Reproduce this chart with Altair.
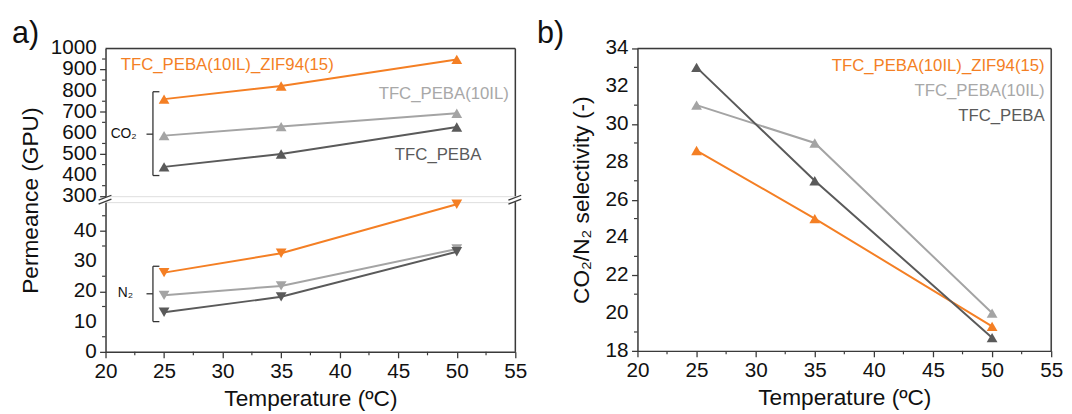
import altair as alt
import pandas as pd

# ---------------- data ----------------
temps = [25, 35, 50]
series = ["TFC_PEBA(10IL)_ZIF94(15)", "TFC_PEBA(10IL)", "TFC_PEBA"]
colors = ["#F47F24", "#A4A4A4", "#5A5A5A"]

co2_zif = [760, 822, 948]
co2_il = [587, 630, 693]
co2_peba = [439, 500, 628]

n2_zif = [26.2, 32.6, 48.8]
n2_il = [18.7, 21.8, 34.0]
n2_peba = [13.1, 18.2, 33.1]

sel_zif = [28.6, 25.0, 19.3]
sel_il = [31.0, 29.0, 20.0]
sel_peba = [33.0, 27.0, 18.7]

x_major = [20, 25, 30, 35, 40, 45, 50, 55]
x_minor = [22.5, 27.5, 32.5, 37.5, 42.5, 47.5, 52.5]
co2_major = [300, 400, 500, 600, 700, 800, 900, 1000]
co2_minor = [350, 450, 550, 650, 750, 850, 950]
n2_major = [0, 10, 20, 30, 40]
n2_minor = [5, 15, 25, 35, 45]
sel_major = [18, 20, 22, 24, 26, 28, 30, 32, 34]
sel_minor = [19, 21, 23, 25, 27, 29, 31, 33]


def table(vals_list):
    rows = []
    for name, vals in zip(series, vals_list):
        for t, v in zip(temps, vals):
            rows.append({"series": name, "T": t, "v": v})
    return pd.DataFrame(rows)


co2_df = table([co2_zif, co2_il, co2_peba])
n2_df = table([n2_zif, n2_il, n2_peba])
sel_df = table([sel_zif, sel_il, sel_peba])
one = pd.DataFrame({"k": [0]})

FONT = "Liberation Sans"
AXC = "#3a3a3a"
W_A, W_B = 416, 420
H_UP, H_LO, H_B = 150, 152, 307

color = alt.Color("series:N", scale=alt.Scale(domain=series, range=colors), legend=None)
xscale = alt.Scale(domain=[20, 55], nice=False, zero=False)


def ax(values, title=None, labels=True, **kw):
    return alt.Axis(
        values=values, tickSize=6, labels=labels,
        labelOverlap=False, labelFlush=False, grid=False,
        domainColor=AXC, domainWidth=1.5, tickColor=AXC, tickWidth=1.3,
        labelFont=FONT, labelFontSize=21, labelColor="#111111", labelPadding=3,
        title=title, titleFont=FONT, titleFontSize=23, titleFontWeight="normal",
        titleColor="#111111", **kw,
    )


xaxis = ax(x_major, "Temperature (ºC)", titlePadding=6)


def series_layers(df, yscale, yaxis, shape, xax=None):
    base = alt.Chart(df).encode(
        x=alt.X("T:Q", scale=xscale, axis=xax),
        y=alt.Y("v:Q", scale=yscale, axis=yaxis),
        color=color,
    )
    line = base.mark_line(strokeWidth=2)
    pts = base.mark_point(shape=shape, filled=True, size=120, opacity=1)
    return [line, pts]


def minor_y(vals, yscale, yaxis):
    return alt.Chart(pd.DataFrame({"v": vals})).mark_rule(color=AXC, strokeWidth=1.2).encode(
        x=alt.value(-3.5), x2=alt.value(0),
        y=alt.Y("v:Q", scale=yscale, axis=yaxis))


def labels_y(vals, yscale, yaxis):
    return alt.Chart(pd.DataFrame({"v": vals})).mark_text(
        font=FONT, fontSize=21, color="#111111", align="right", baseline="middle"
    ).encode(
        x=alt.value(-9),
        y=alt.Y("v:Q", scale=yscale, axis=yaxis),
        text=alt.Text("v:Q"))


def minor_x(vals, h, xax):
    return alt.Chart(pd.DataFrame({"T": vals})).mark_rule(color=AXC, strokeWidth=1.2).encode(
        x=alt.X("T:Q", scale=xscale, axis=xax),
        y=alt.value(h), y2=alt.value(h + 3.5))


def hrule(x0, x1, y):
    return alt.Chart(one).mark_rule(color=AXC, strokeWidth=1.5).encode(
        x=alt.value(x0), x2=alt.value(x1), y=alt.value(y))


def vrule(x, y0, y1):
    return alt.Chart(one).mark_rule(color=AXC, strokeWidth=1.5).encode(
        x=alt.value(x), y=alt.value(y0), y2=alt.value(y1))


def slash(x0, y0, x1, y1):
    return alt.Chart(one).mark_rule(color=AXC, strokeWidth=1.3).encode(
        x=alt.value(x0), y=alt.value(y0), x2=alt.value(x1), y2=alt.value(y1))


def label(text, x, y, col, align="left", size=17):
    return alt.Chart(one).mark_text(
        text=text, font=FONT, fontSize=size, color=col, align=align, baseline="middle"
    ).encode(x=alt.datum(x), y=alt.datum(y))


def panel_tag(text, dx):
    return alt.Chart(one).mark_text(
        text=text, font=FONT, fontSize=31, align="left", baseline="alphabetic",
        color="#111111").encode(x=alt.value(dx), y=alt.value(-6))


def bracket(xv, xs, xm, ylo, yhi, ymid):
    c = alt.Chart(one)
    m = dict(color="#333333", strokeWidth=1.3)
    return [
        c.mark_rule(**m).encode(x=alt.datum(xv), y=alt.datum(ylo), y2=alt.datum(yhi)),
        c.mark_rule(**m).encode(x=alt.datum(xv), x2=alt.datum(xs), y=alt.datum(yhi)),
        c.mark_rule(**m).encode(x=alt.datum(xv), x2=alt.datum(xs), y=alt.datum(ylo)),
        c.mark_rule(**m).encode(x=alt.datum(xm), x2=alt.datum(xv), y=alt.datum(ymid)),
    ]


# ---------------- panel a, upper (CO2) ----------------
co2_scale = alt.Scale(domain=[300, 1000], nice=False, zero=False)
co2_axis = ax(co2_major, "Permeance (GPU)", labels=False,
              titleY=(H_UP + 6 + H_LO) / 2, titlePadding=57)
upper = alt.layer(
    *series_layers(co2_df, co2_scale, co2_axis, "triangle-up"),
    minor_y(co2_minor, co2_scale, co2_axis),
    labels_y(co2_major, co2_scale, co2_axis),
    *bracket(24.05, 24.6, 23.5, 398, 795, 594),
    label("CO₂", 21.55, 594, "#111111", "center", 14),
    label(series[0], 21.3, 922, colors[0]),
    label(series[1], 54.45, 785, "#A8A8A8", "right"),
    label(series[2], 52.1, 496, "#5A5A5A", "right"),
    hrule(0, W_A, 0),
    vrule(W_A, 0, H_UP),
    panel_tag("a)", -95),
).properties(width=W_A, height=H_UP)

# ---------------- panel a, lower (N2) ----------------
n2_scale = alt.Scale(domain=[0, 49.5], nice=False, zero=False)
n2_axis = ax(n2_major, labels=False)
lower = alt.layer(
    *series_layers(n2_df, n2_scale, n2_axis, "triangle-down", xaxis),
    minor_y(n2_minor, n2_scale, n2_axis),
    labels_y(n2_major, n2_scale, n2_axis),
    minor_x(x_minor, H_LO, xaxis),
    *bracket(24.05, 24.6, 23.5, 10.0, 28.3, 19.2),
    label("N₂", 21.7, 19.3, "#111111", "center", 14),
    vrule(W_A, 0, H_LO),
    slash(-7, -2, 6, -7),
    slash(-7, 2, 6, -3),
    slash(W_A - 7, -2, W_A + 6, -7),
    slash(W_A - 7, 2, W_A + 6, -3),
).properties(width=W_A, height=H_LO)

panel_a = alt.vconcat(upper, lower, spacing=6, bounds="flush")

# ---------------- panel b (selectivity) ----------------
sel_scale = alt.Scale(domain=[18, 34], nice=False, zero=False)
sel_axis = ax(sel_major, "CO₂/N₂ selectivity (-)", labels=False, titlePadding=38)
panel_b = alt.layer(
    *series_layers(sel_df, sel_scale, sel_axis, "triangle-up", xaxis),
    minor_y(sel_minor, sel_scale, sel_axis),
    labels_y(sel_major, sel_scale, sel_axis),
    minor_x(x_minor, H_B, xaxis),
    label(series[0], 54.45, 33.06, colors[0], "right"),
    label(series[1], 54.45, 31.76, "#A8A8A8", "right"),
    label(series[2], 54.45, 30.4, "#5A5A5A", "right"),
    hrule(0, W_B, 0),
    vrule(W_B, 0, H_B),
    panel_tag("b)", -102),
).properties(width=W_B, height=H_B)

chart = alt.hconcat(panel_a, panel_b, spacing=8).properties(
    padding={"left": 3, "top": 6, "right": 0, "bottom": 0}
).configure_view(stroke="transparent").configure(background="white")

chart.save("out.html", embed_options={"renderer": "svg", "actions": False})
